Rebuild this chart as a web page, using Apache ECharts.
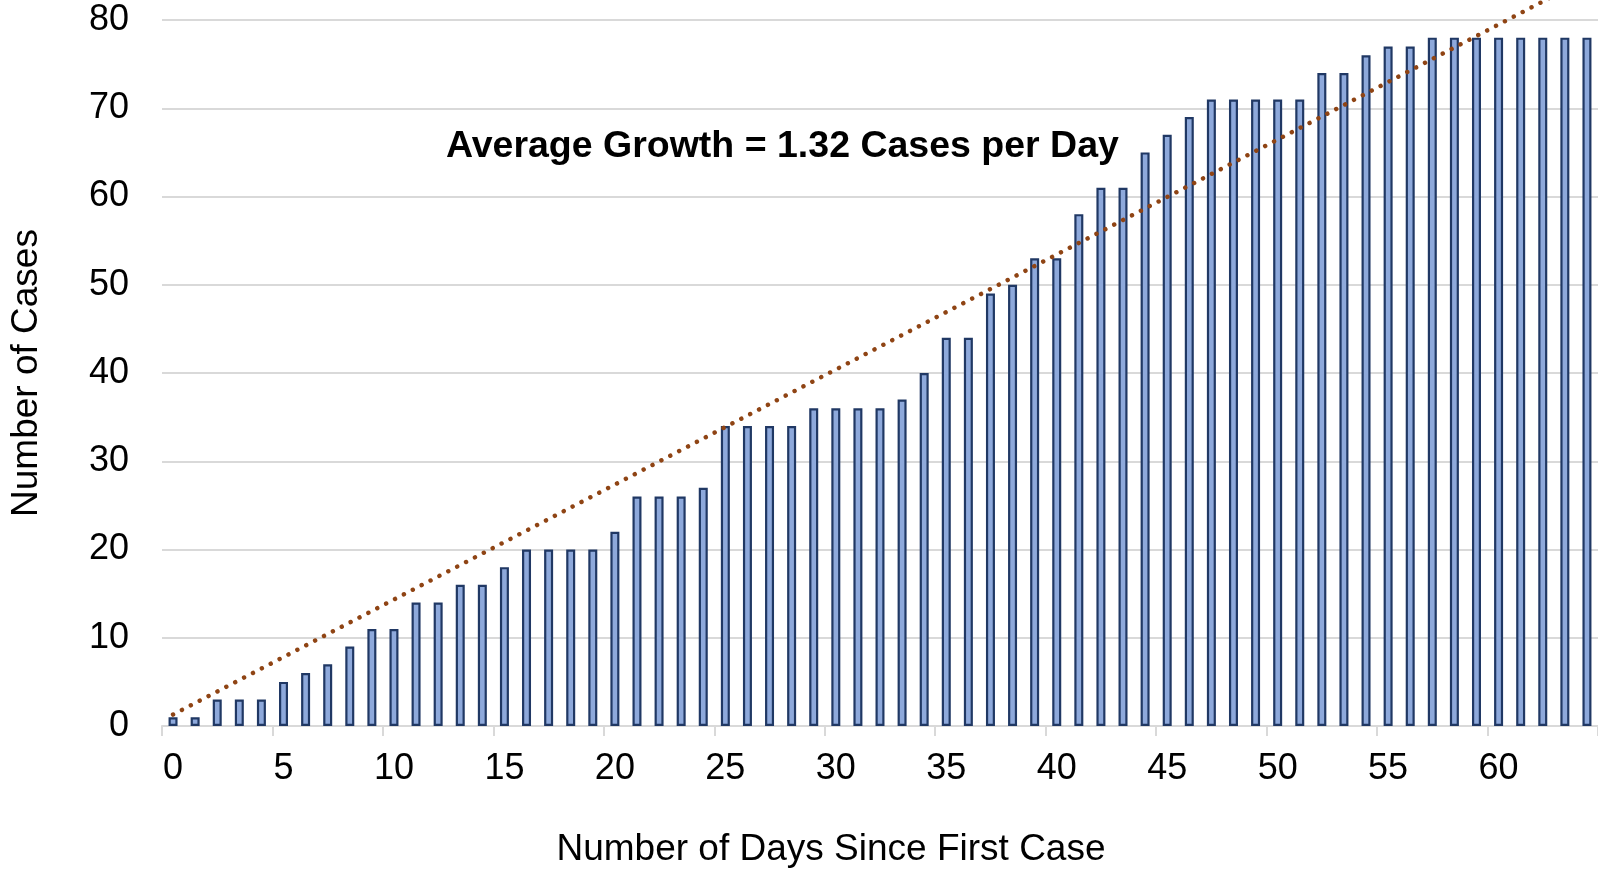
<!DOCTYPE html>
<html>
<head>
<meta charset="utf-8">
<style>
  html, body { margin: 0; padding: 0; background: #ffffff; }
  #chart { width: 1598px; height: 873px; }
</style>
<script src="https://cdn.jsdelivr.net/npm/echarts@6/dist/echarts.min.js"></script>
</head>
<body>
<div id="chart"></div>
<script>
const days = ['0','1','2','3','4','5','6','7','8','9','10','11','12','13','14','15','16','17','18','19',
  '20','21','22','23','24','25','26','27','28','29','30','31','32','33','34','35','36','37','38','39',
  '40','41','42','43','44','45','46','47','48','49','50','51','52','53','54','55','56','57','58','59',
  '60','61','62','63','64'];
const cases = [1,1,3,3,3,5,6,7,9,11,11,14,14,16,16,18,20,20,20,20,
  22,26,26,26,27,34,34,34,34,36,36,36,36,37,40,44,44,49,50,53,
  53,58,61,61,65,67,69,71,71,71,71,71,74,74,76,77,77,78,78,78,
  78,78,78,78,78];
const trendPoints = [['0', 1.3], ['64', 84.7]];
const yTicks = [0, 10, 20, 30, 40, 50, 60, 70, 80];
const annotation = 'Average Growth = 1.32 Cases per Day';
const xName = 'Number of Days Since First Case';
const yName = 'Number of Cases';

const FONT = "'Liberation Sans', Arial, sans-serif";
const chart = echarts.init(document.getElementById('chart'));
chart.setOption({
  animation: false,
  backgroundColor: '#ffffff',
  grid: { left: 152, right: 0, top: 20, bottom: 145, containLabel: false },
  xAxis: {
    type: 'category',
    data: days,
    boundaryGap: true,
    name: xName,
    nameLocation: 'middle',
    nameGap: 105,
    nameTextStyle: { fontFamily: FONT, fontSize: 37, color: '#000000', padding: [0, 98, 0, 0] },
    axisLine: { show: true, lineStyle: { color: '#D9D9D9', width: 2 } },
    axisTick: { show: true, interval: 4, length: 10, lineStyle: { color: '#D9D9D9', width: 2 } },
    axisLabel: { interval: 4, margin: 25, fontFamily: FONT, fontSize: 36, color: '#000000' },
    splitLine: { show: false }
  },
  yAxis: {
    type: 'value',
    min: yTicks[0],
    max: yTicks[yTicks.length - 1],
    interval: yTicks[1] - yTicks[0],
    name: yName,
    nameLocation: 'middle',
    nameGap: 117,
    nameTextStyle: { fontFamily: FONT, fontSize: 37, color: '#000000' },
    axisLine: { show: false },
    axisTick: { show: false },
    axisLabel: { margin: 33, fontFamily: FONT, fontSize: 36, color: '#000000' },
    splitLine: { show: true, lineStyle: { color: '#D9D9D9', width: 2 } }
  },
  graphic: [{
    type: 'text',
    x: 446,
    y: 147,
    style: {
      text: annotation,
      font: "bold 37.5px 'Liberation Sans', Arial, sans-serif",
      fill: '#000000',
      align: 'left',
      verticalAlign: 'middle'
    }
  }],
  series: [
    {
      type: 'bar',
      data: cases,
      barWidth: 9,
      itemStyle: { color: '#8EA9DB', borderColor: '#203864', borderWidth: 2.2 },
      z: 2
    },
    {
      type: 'line',
      data: trendPoints,
      showSymbol: false,
      symbol: 'none',
      clip: false,
      lineStyle: { color: '#8F4414', width: 4.5, type: [0.01, 10], cap: 'round' },
      z: 3
    }
  ]
});
</script>
</body>
</html>
